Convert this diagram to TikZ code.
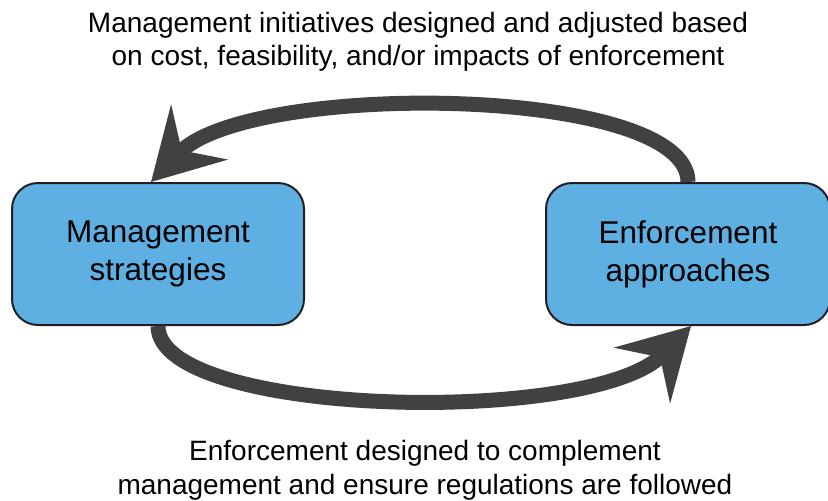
\documentclass[tikz,border=0pt]{standalone}
\usepackage{fontspec}
\setmainfont{Liberation Sans}
\usetikzlibrary{arrows.meta}

\definecolor{azul}{RGB}{94,176,226}
\definecolor{gris}{RGB}{65,64,66}
\definecolor{borde}{RGB}{35,31,32}

\begin{document}
\begin{tikzpicture}[x=1pt,y=-1pt]

	\tikzstyle{bloque} = [rectangle,rounded corners=26pt,draw=borde,line width=2pt,fill=azul,
		minimum width=292pt,minimum height=142pt,align=center,
		font=\fontsize{31.5}{38}\selectfont]
	\tikzstyle{texto} = [align=center,inner sep=0pt,anchor=north,
		font=\fontsize{28}{33}\selectfont]
	\tikzstyle{arco} = [-{Stealth[length=69pt,width=78pt,inset=25pt]},
		draw=gris,line width=15pt]

	\useasboundingbox (0,0) rectangle (828,501);

	\node[bloque] (gestion)	at (158,254)	{Management\\strategies};
	\node[bloque,minimum width=284pt] (control) at (688,254) {Enforcement\\approaches};

	\node[texto] (arriba)	at (418,11.6)	{Management initiatives designed and adjusted based\\on cost, feasibility, and/or impacts of enforcement};
	\node[texto,font=\fontsize{28}{34}\selectfont] (abajo)	at (425,440)	{Enforcement designed to complement\\management and ensure regulations are followed};

	\draw[arco] (control.north) .. controls +(0,-97) and +(99,-102) .. ([xshift=-7pt]gestion.north);
	\draw[arco] (gestion.south) .. controls +(0,91) and +(-100,101) .. ([xshift=3pt]control.south);

\end{tikzpicture}
\end{document}
